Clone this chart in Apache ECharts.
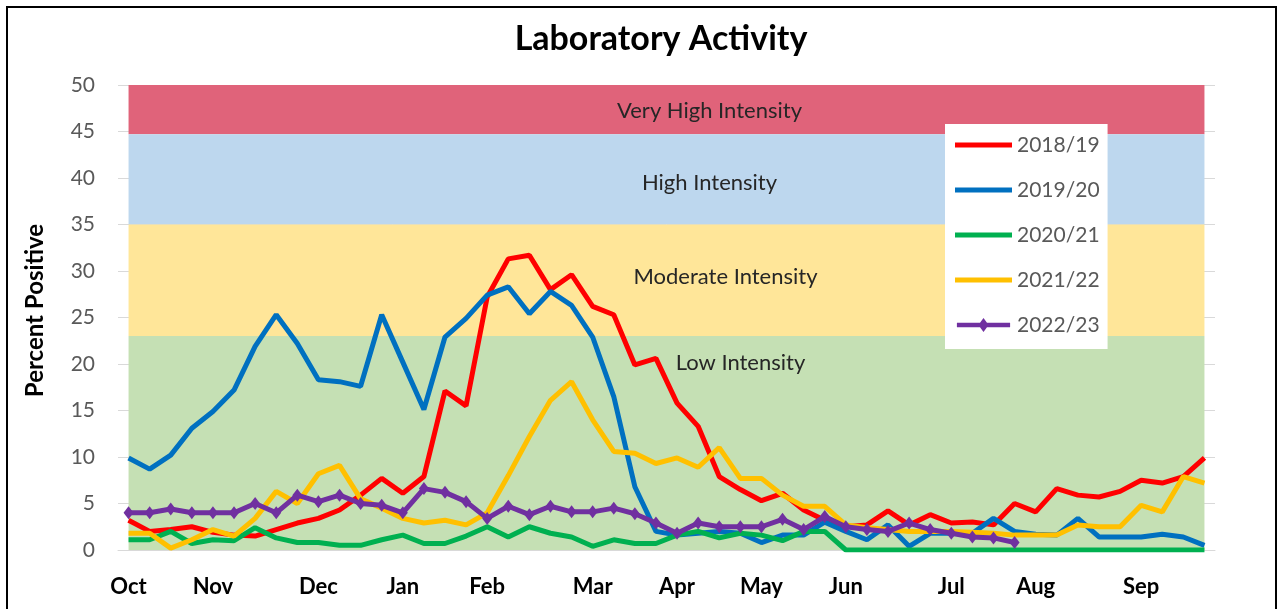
<!DOCTYPE html>
<html>
<head>
<meta charset="utf-8">
<script src="https://cdn.jsdelivr.net/npm/echarts@6/dist/echarts.min.js"></script>
<style>
  html, body { margin: 0; padding: 0; background: #fff; }
  #chart { width: 1278px; height: 609px; }
</style>
</head>
<body>
<div id="chart"></div>
<script>
// weekly points, Oct -> Sep
const months = ['Oct', 'Nov', 'Dec', 'Jan', 'Feb', 'Mar', 'Apr', 'May', 'Jun', 'Jul', 'Aug', 'Sep']
const monthWeek = [0, 4, 9, 13, 17, 22, 26, 30, 34, 39, 43, 48]

const s1819 = [3.2, 2.0, 2.2, 2.5, 1.9, 1.6, 1.5, 2.2, 2.9, 3.4, 4.3, 5.9, 7.7, 6.1, 7.9, 17.1, 15.5, 27.2, 31.3, 31.7,
  28.0, 29.6, 26.2, 25.3, 19.9, 20.6, 15.8, 13.3, 7.9, 6.5, 5.3, 6.1, 4.3, 3.2, 2.5, 2.7, 4.2, 2.7, 3.8, 2.9,
  3.0, 2.7, 5.0, 4.1, 6.6, 5.9, 5.7, 6.3, 7.5, 7.2, 7.9, 9.9]
const s1920 = [9.9, 8.7, 10.2, 13.1, 14.9, 17.2, 21.9, 25.3, 22.2, 18.3, 18.1, 17.6, 25.3, 20.2, 15.1, 22.9, 24.9, 27.4, 28.3, 25.4,
  27.8, 26.3, 22.9, 16.5, 6.8, 2.0, 1.6, 1.8, 2.0, 1.8, 0.8, 1.6, 1.6, 3.0, 2.0, 1.1, 2.7, 0.4, 1.8, 1.8,
  1.8, 3.4, 2.0, 1.7, 1.6, 3.4, 1.4, 1.4, 1.4, 1.7, 1.4, 0.5]
const s2021 = [1.1, 1.1, 2.0, 0.7, 1.1, 1.0, 2.4, 1.3, 0.8, 0.8, 0.5, 0.5, 1.1, 1.6, 0.7, 0.7, 1.5, 2.5, 1.4, 2.5,
  1.8, 1.4, 0.4, 1.1, 0.7, 0.7, 1.6, 2.0, 1.3, 1.8, 1.6, 1.0, 2.0, 2.0, 0, 0, 0, 0, 0, 0,
  0, 0, 0, 0, 0, 0, 0, 0, 0, 0, 0, 0]
const s2122 = [1.8, 1.8, 0.2, 1.1, 2.2, 1.5, 3.4, 6.3, 5.0, 8.2, 9.1, 5.5, 4.5, 3.4, 2.9, 3.2, 2.7, 4.0, 8.0, 12.2,
  16.1, 18.1, 14.0, 10.6, 10.4, 9.3, 9.9, 8.9, 11.0, 7.7, 7.7, 5.9, 4.7, 4.7, 2.7, 2.4, 2.2, 2.0, 2.0, 2.0,
  1.9, 1.8, 1.6, 1.6, 1.6, 2.7, 2.5, 2.5, 4.8, 4.1, 7.9, 7.2]
const s2223 = [4.0, 4.0, 4.4, 4.0, 4.0, 4.0, 5.0, 4.0, 5.9, 5.2, 5.9, 5.0, 4.8, 4.0, 6.6, 6.2, 5.2, 3.4, 4.7, 3.8,
  4.7, 4.1, 4.1, 4.5, 3.9, 2.9, 1.8, 2.9, 2.5, 2.5, 2.5, 3.3, 2.2, 3.6, 2.5, 2.2, 2.0, 2.9, 2.2, 1.8,
  1.4, 1.3, 0.8, null, null, null, null, null, null, null, null, null]

const seasons = ['2018/19', '2019/20', '2020/21', '2021/22', '2022/23']
const colors = ['#ff0000', '#0070c0', '#00b050', '#ffc000', '#7030a0']

// intensity bands (percent positive)
const bandNames = ['Very High Intensity', 'High Intensity', 'Moderate Intensity', 'Low Intensity']
const bandFrom = [44.7, 35, 23, 0]
const bandTo = [50, 44.7, 35, 23]
const bandColors = ['#e0637a', '#bdd7ee', '#ffe699', '#c5e0b4']
const bandLabelOffset = [[43, 1], [43, 4], [59, -3], [74, -80]]

const weeks = s1819.map((v, i) => String(i))
const font = 'Lato, "Open Sans", sans-serif'

const ec = echarts.init(document.getElementById('chart'))

const lineIcon = 'path://M0,0H57V5H0Z'
const diamondIcon = 'path://M0,5H57V10H0Z M28.5,0L34,7.5L28.5,15L23,7.5Z'

const seriesData = [s1819, s1920, s2021, s2122, s2223]

const series = [{
  type: 'line',
  name: 'bands',
  data: [],
  silent: true,
  z: 1,
  markArea: {
    silent: true,
    data: bandNames.map((n, i) => [
      {
        name: n,
        xAxis: weeks[0],
        yAxis: bandFrom[i],
        itemStyle: { color: bandColors[i], opacity: 1 },
        label: {
          show: true,
          position: 'inside',
          offset: bandLabelOffset[i],
          color: '#262626',
          fontFamily: font,
          fontSize: 22
        }
      },
      { xAxis: weeks[weeks.length - 1], yAxis: bandTo[i] }
    ])
  }
}]

seasons.forEach((s, i) => {
  const isLast = i === seasons.length - 1
  series.push({
    type: 'line',
    name: s,
    data: seriesData[i],
    z: 3 + i,
    color: colors[i],
    symbol: isLast ? 'diamond' : 'none',
    symbolSize: [10, 13],
    showSymbol: isLast,
    lineStyle: { width: 5, color: colors[i] },
    itemStyle: { color: colors[i], borderWidth: 0 },
    emphasis: { disabled: true }
  })
})

ec.setOption({
  animation: false,
  textStyle: { fontFamily: font },
  title: {
    text: 'Laboratory Activity',
    left: 656,
    textAlign: 'center',
    top: 17,
    textStyle: { fontFamily: font, fontWeight: 'bold', fontSize: 34, color: '#000' }
  },
  graphic: [{
    type: 'rect',
    silent: true,
    shape: { x: 7, y: 7, width: 1269, height: 640 },
    style: { fill: 'none', stroke: '#000', lineWidth: 2 },
    z: 100
  }],
  legend: {
    data: seasons.map((s, i) => ({ name: s, icon: i === 4 ? diamondIcon : lineIcon })),
    orient: 'vertical',
    left: 945,
    top: 124,
    backgroundColor: '#fff',
    padding: [9, 8, 12, 10],
    itemWidth: 57,
    itemHeight: 14,
    itemGap: 21,
    itemStyle: { borderWidth: 0 },
    selectedMode: false,
    textStyle: { fontFamily: font, fontSize: 21, color: '#595959', lineHeight: 24 }
  },
  grid: { left: 118, right: 63, top: 85, bottom: 59, containLabel: false },
  xAxis: {
    type: 'category',
    data: weeks,
    boundaryGap: true,
    axisLine: { lineStyle: { color: '#d9d9d9', width: 1 } },
    axisTick: { show: false },
    axisLabel: {
      interval: 0,
      margin: 26,
      color: '#000',
      fontFamily: font,
      fontWeight: 'bold',
      fontSize: 22,
      formatter: (v, idx) => {
        const k = monthWeek.indexOf(idx)
        return k >= 0 ? months[k] : ''
      }
    }
  },
  yAxis: {
    type: 'value',
    min: 0,
    max: 50,
    interval: 5,
    name: 'Percent Positive',
    nameLocation: 'middle',
    nameGap: 71,
    nameTextStyle: { fontFamily: font, fontWeight: 'bold', fontSize: 24, color: '#000', padding: [0, 0, 0, 14] },
    axisLine: { show: false },
    axisTick: { show: false },
    axisLabel: { color: '#595959', fontFamily: font, fontSize: 21, margin: 23 },
    splitLine: { show: true, lineStyle: { color: '#d9d9d9', width: 1 } }
  },
  series
})
</script>
</body>
</html>
